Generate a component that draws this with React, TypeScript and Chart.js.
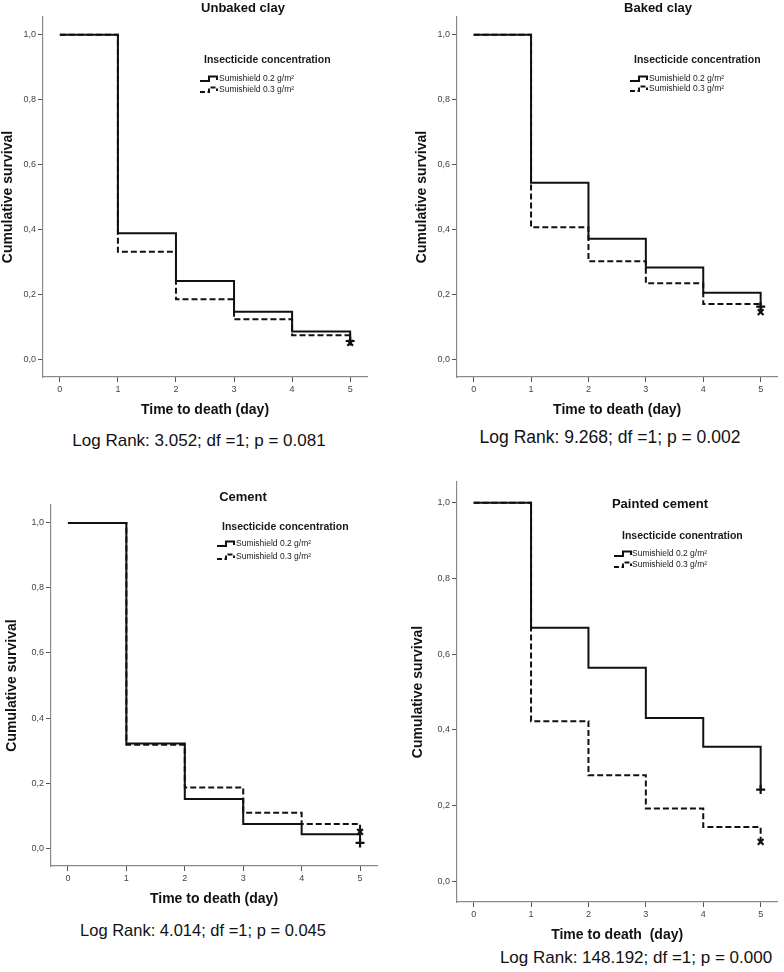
import React, { useEffect, useRef } from 'react';
import { Chart, registerables } from 'chart.js';

Chart.register(...registerables);

// ---------- data ----------
const days = [0, 1, 2, 3, 4, 5];
const yTickValues = [0, 0.2, 0.4, 0.6, 0.8, 1.0];
const seriesLabels = ['Sumishield 0.2 g/m²', 'Sumishield 0.3 g/m²'];

const unbakedLow = [1.0, 0.388, 0.241, 0.146, 0.085, 0.056];
const unbakedHigh = [1.0, 0.331, 0.185, 0.123, 0.074, 0.05];
const bakedLow = [1.0, 0.544, 0.371, 0.283, 0.205, 0.162];
const bakedHigh = [1.0, 0.407, 0.302, 0.234, 0.17, 0.145];
const cementLow = [1.0, 0.322, 0.151, 0.074, 0.043, 0.016];
const cementHigh = [1.0, 0.318, 0.186, 0.109, 0.074, 0.05];
const paintedLow = [1.0, 0.67, 0.564, 0.431, 0.355, 0.242];
const paintedHigh = [1.0, 0.423, 0.28, 0.192, 0.143, 0.104];

const panelTitles = ['Unbaked clay', 'Baked clay', 'Cement', 'Painted cement'];
const legendTitles = [
  'Insecticide concentration',
  'Insecticide concentration',
  'Insecticide concentration',
  'Insecticide conentration',
];
const xAxisTitles = [
  'Time to death (day)',
  'Time to death (day)',
  'Time to death (day)',
  'Time to death  (day)',
];
const yAxisTitle = 'Cumulative survival';
const logRankTexts = [
  'Log Rank: 3.052; df =1; p = 0.081',
  'Log Rank: 9.268; df =1; p = 0.002',
  'Log Rank: 4.014; df =1; p = 0.045',
  'Log Rank: 148.192; df =1; p = 0.000',
];

const panelSeries = [
  [unbakedLow, unbakedHigh],
  [bakedLow, bakedHigh],
  [cementLow, cementHigh],
  [paintedLow, paintedHigh],
];

// ---------- layout (page pixel geometry) ----------
type Layout = {
  L: number; T: number; R: number; B: number; yW: number; pr: number;
  title: [number, number]; logRank: [number, number]; lrSize: number;
  lg: { tx: number; ty: number; ix: number; lx: number; ey: [number, number] };
};

const layouts: Layout[] = [
  { L: 43, T: 17, R: 367, B: 377, yW: 43, pr: 10, title: [243, 8], logRank: [199, 441], lrSize: 17,
    lg: { tx: 161, ty: 43, ix: 157, lx: 176, ey: [62, 73] } },
  { L: 457, T: 17, R: 782, B: 377, yW: 43, pr: 2, title: [658, 8], logRank: [610, 437], lrSize: 17.5,
    lg: { tx: 177, ty: 43, ix: 173, lx: 192, ey: [62, 72] } },
  { L: 51, T: 505, R: 377, B: 866, yW: 47, pr: 10, title: [243, 497], logRank: [203, 931], lrSize: 16.5,
    lg: { tx: 171, ty: 22, ix: 166, lx: 185, ey: [39, 52] } },
  { L: 457, T: 482, R: 782, B: 902, yW: 47, pr: 2, title: [660, 504], logRank: [636, 958], lrSize: 17,
    lg: { tx: 165, ty: 54, ix: 157, lx: 175, ey: [72, 83] } },
];

const TOP_PAD = 10;
const X_H = 42;
const FONT = '"Liberation Sans", Arial, Helvetica, sans-serif';

const kmLegendPlugin = {
  id: 'kmLegend',
  afterDraw(chart: any, _args: any, opts: any) {
    const { ctx, chartArea } = chart;
    const x0 = chartArea.left;
    const y0 = chartArea.top;
    ctx.save();
    ctx.fillStyle = '#1a1a1a';
    ctx.textBaseline = 'middle';
    ctx.textAlign = 'left';
    ctx.font = 'bold 10.5px ' + FONT;
    ctx.fillText(opts.title, x0 + opts.tx, y0 + opts.ty);
    ctx.font = '8.5px ' + FONT;
    opts.labels.forEach((lab: string, i: number) => {
      const iy = y0 + opts.ey[i];
      const ix = x0 + opts.ix;
      ctx.strokeStyle = '#111';
      ctx.lineWidth = 2;
      ctx.setLineDash(i === 0 ? [] : [5, 2.5]);
      ctx.beginPath();
      ctx.moveTo(ix, iy + 2);
      ctx.lineTo(ix + 9, iy + 2);
      ctx.lineTo(ix + 9, iy - 2.5);
      ctx.lineTo(ix + 17, iy - 2.5);
      ctx.lineTo(ix + 17, iy + 1);
      ctx.stroke();
      ctx.setLineDash([]);
      ctx.fillText(lab, x0 + opts.lx, iy);
    });
    ctx.restore();
  },
};

const toPoints = (vals: number[]) => days.map((d, i) => ({ x: d, y: vals[i] }));

function Panel({ idx }: { idx: number }) {
  const ref = useRef<HTMLCanvasElement | null>(null);
  const lay = layouts[idx];
  const width = lay.yW + (lay.R - lay.L) + lay.pr;
  const height = TOP_PAD + (lay.B - lay.T) + X_H;
  const left = lay.L - lay.yW;
  const top = lay.T - TOP_PAD;

  useEffect(() => {
    if (!ref.current) return;
    const [low, high] = panelSeries[idx];
    const lastIdx = days.length - 1;
    const tickGrid = {
      display: true,
      drawOnChartArea: false,
      drawTicks: true,
      tickLength: 5,
      tickColor: '#555',
      tickWidth: 1,
    };
    const border = { display: true, color: '#8a8a8a', width: 1.2 };
    const chart = new Chart(ref.current, {
      type: 'line',
      data: {
        datasets: [
          {
            label: seriesLabels[1],
            data: toPoints(high),
            borderColor: '#111',
            borderWidth: 2,
            borderDash: [6, 3],
            stepped: 'before',
            fill: false,
            pointStyle: 'crossRot',
            pointRadius: (c: any) => (c.dataIndex === lastIdx ? 4 : 0),
            pointBorderColor: '#111',
            pointBorderWidth: 2.2,
            clip: false,
          },
          {
            label: seriesLabels[0],
            data: toPoints(low),
            borderColor: '#111',
            borderWidth: 2,
            stepped: 'before',
            fill: false,
            pointStyle: 'cross',
            pointRadius: (c: any) => (c.dataIndex === lastIdx ? 4.5 : 0),
            pointBorderColor: '#111',
            pointBorderWidth: 2.2,
            clip: false,
          },
        ],
      } as any,
      options: {
        responsive: false,
        maintainAspectRatio: false,
        animation: false,
        events: [],
        layout: { padding: { left: 0, top: TOP_PAD, right: lay.pr, bottom: 0 } },
        plugins: {
          legend: { display: false },
          title: { display: false },
          tooltip: { enabled: false },
          kmLegend: { title: legendTitles[idx], labels: seriesLabels, ...lay.lg },
        } as any,
        scales: {
          x: {
            type: 'linear',
            min: -0.29,
            max: 5.29,
            afterBuildTicks: (s: any) => {
              s.ticks = days.map((v) => ({ value: v }));
            },
            afterFit: (s: any) => {
              s.height = X_H;
            },
            grid: tickGrid,
            border,
            ticks: {
              color: '#444',
              font: { family: FONT, size: 9 },
              padding: 2,
              maxRotation: 0,
              callback: (v: any) => String(v),
            },
            title: {
              display: true,
              text: xAxisTitles[idx],
              color: '#111',
              font: { family: FONT, size: 14, weight: 'bold' },
              padding: { top: 0, bottom: 0 },
            },
          },
          y: {
            type: 'linear',
            min: -0.055,
            max: 1.055,
            afterBuildTicks: (s: any) => {
              s.ticks = yTickValues.map((v) => ({ value: v }));
            },
            afterFit: (s: any) => {
              s.width = lay.yW;
            },
            grid: tickGrid,
            border,
            ticks: {
              color: '#444',
              font: { family: FONT, size: 9 },
              padding: 2,
              callback: (v: any) => Number(v).toFixed(1).replace('.', ','),
            },
            title: {
              display: true,
              text: yAxisTitle,
              color: '#111',
              font: { family: FONT, size: 14, weight: 'bold' },
              padding: { top: 0, bottom: 0 },
            },
          },
        },
      } as any,
      plugins: [kmLegendPlugin],
    });
    return () => chart.destroy();
  }, [idx]);

  return (
    <canvas
      ref={ref}
      width={width}
      height={height}
      style={{ position: 'absolute', left, top, width, height }}
    />
  );
}

function Label({ x, y, text, font }: { x: number; y: number; text: string; font: string }) {
  return (
    <div
      style={{
        position: 'absolute',
        left: x,
        top: y,
        transform: 'translate(-50%, -50%)',
        whiteSpace: 'pre',
        font,
        color: '#111',
        lineHeight: 1.2,
      }}
    >
      {text}
    </div>
  );
}

export default function App() {
  return (
    <div
      style={{
        position: 'absolute',
        left: 0,
        top: 0,
        width: 784,
        height: 972,
        background: '#fff',
        overflow: 'hidden',
        fontFamily: FONT,
      }}
    >
      {layouts.map((lay, i) => (
        <React.Fragment key={i}>
          <Panel idx={i} />
          <Label x={lay.title[0]} y={lay.title[1]} text={panelTitles[i]} font={'bold 13px ' + FONT} />
          <Label x={lay.logRank[0]} y={lay.logRank[1]} text={logRankTexts[i]} font={lay.lrSize + 'px ' + FONT} />
        </React.Fragment>
      ))}
    </div>
  );
}
